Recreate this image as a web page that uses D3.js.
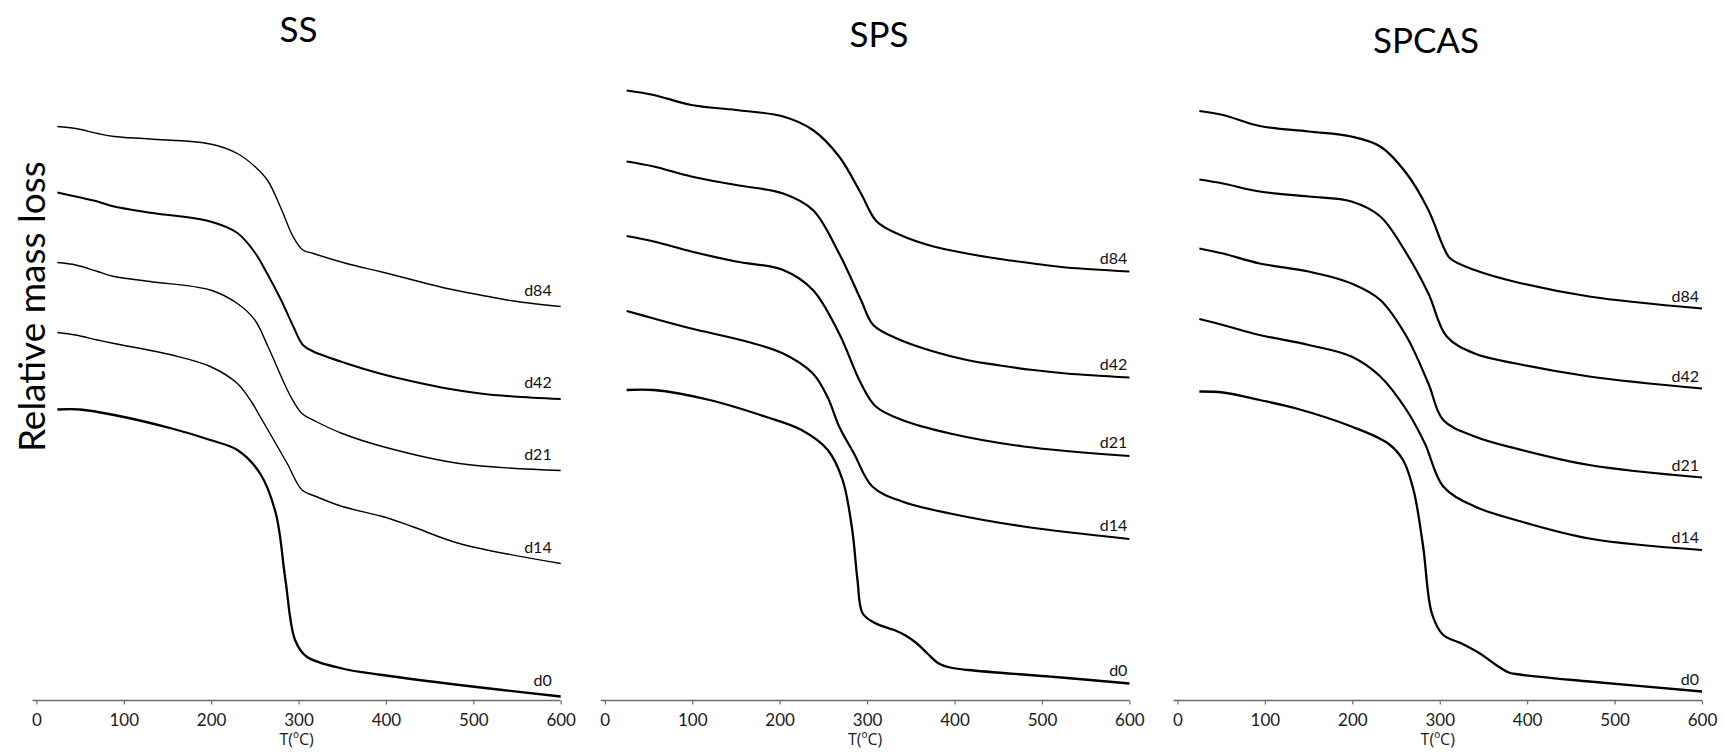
<!DOCTYPE html>
<html>
<head>
<meta charset="utf-8">
<script src="https://cdn.jsdelivr.net/npm/d3@7"></script>
<style>
  body { margin: 0; background: #fff; }
  svg { display: block; font-family: Lato, "Open Sans", sans-serif; }
</style>
</head>
<body>
<div id="chart"></div>
<script>
// x axis ticks (ºC) and curve names, top to bottom
const tempTicks = [0, 100, 200, 300, 400, 500, 600]
const seriesNames = ["d84", "d42", "d21", "d14", "d0"]

// [T (ºC), relative mass (offset, arbitrary units)]
// SS
const ssD84 = [[24,114.7],[45,114.3],[70,113.3],[89,112.7],[130,112.2],[199,111.2],[230,109.3],[250,106.7],[265,103.8],[280,98.3],[294,92.6],[305,90.0],[317,89.3],[355,87.3],[393,85.7],[431,84.0],[470,82.3],[508,81.0],[546,79.8],[600,78.7]]
const ssD42 = [[24,101.5],[45,100.7],[70,99.7],[89,98.7],[133,97.4],[199,95.7],[230,93.4],[250,89.5],[265,85.0],[280,80.0],[294,74.7],[305,71.0],[317,69.7],[355,67.3],[393,65.3],[431,63.7],[470,62.3],[508,61.3],[546,60.7],[600,60.2]]
const ssD21 = [[24,87.5],[45,87.0],[70,85.7],[89,84.7],[130,83.7],[199,82.0],[230,79.3],[250,76.0],[265,70.7],[291,60.7],[304,57.3],[320,55.7],[350,53.3],[396,50.7],[484,47.3],[600,45.9]]
const ssD14 = [[24,73.5],[45,73.0],[70,72.0],[89,71.3],[155,69.0],[199,66.7],[230,63.3],[247,59.4],[256,56.7],[265,54.0],[287,47.3],[304,42.0],[320,40.7],[350,38.7],[396,36.7],[430,34.7],[484,31.3],[600,27.3]]
const ssD0 = [[24,58.1],[50,58.1],[89,57.0],[155,54.3],[199,52.0],[230,50.0],[256,45.3],[274,37.3],[285,24.0],[296,12.0],[309,8.7],[350,6.3],[396,5.0],[484,3.0],[600,0.7]]

// SPS
const spsD84 = [[25,121.9],[56,121.0],[99,119.0],[150,118.0],[204,116.7],[238,114.0],[268,108.7],[293,101.3],[311,95.7],[338,93.0],[376,90.7],[414,89.3],[452,88.2],[490,87.3],[528,86.5],[600,85.7]]
const spsD42 = [[25,107.7],[56,106.7],[99,104.7],[150,103.0],[204,101.3],[238,98.0],[268,89.3],[293,80.0],[307,75.0],[338,72.0],[376,69.7],[414,68.0],[452,66.9],[490,66.0],[528,65.3],[600,64.5]]
const spsD21 = [[25,92.8],[56,91.7],[99,89.7],[150,87.7],[204,86.0],[238,82.0],[268,73.3],[293,63.3],[310,58.7],[340,56.0],[395,53.3],[479,50.7],[600,48.8]]
const spsD14 = [[25,77.8],[56,76.3],[99,74.3],[162,71.7],[204,69.3],[238,65.3],[255,60.5],[268,54.7],[285,49.3],[306,42.7],[340,39.7],[395,37.3],[479,34.7],[600,32.2]]
const spsD0 = [[25,62.0],[56,62.0],[120,60.0],[183,56.7],[225,54.0],[255,50.0],[272,44.0],[283,34.0],[289,24.0],[295,17.3],[310,15.3],[331,14.0],[344,12.9],[357,11.3],[369,9.3],[382,7.3],[395,6.5],[416,6.0],[522,4.5],[600,3.3]]

// SPCAS
const spcD84 = [[25,117.8],[52,117.0],[94,114.8],[150,113.7],[199,112.7],[232,110.7],[262,105.3],[287,98.0],[304,90.7],[312,88.3],[340,86.0],[387,83.6],[471,80.7],[600,78.3]]
const spcD42 = [[25,104.1],[52,103.3],[94,101.7],[150,100.7],[199,99.7],[232,96.7],[262,89.3],[287,81.3],[308,72.7],[340,69.3],[387,67.3],[471,64.7],[600,62.3]]
const spcD21 = [[25,90.3],[52,89.3],[94,87.3],[150,85.7],[199,83.3],[232,80.0],[262,72.7],[287,63.3],[304,56.0],[340,52.7],[387,50.3],[471,47.0],[600,44.5]]
const spcD14 = [[25,76.2],[52,75.0],[94,73.0],[150,71.0],[199,68.7],[232,64.7],[262,58.0],[283,51.3],[304,42.7],[340,38.7],[387,36.0],[471,32.3],[600,30.0]]
const spcD0 = [[25,61.7],[52,61.5],[94,60.0],[136,58.3],[199,54.7],[241,51.3],[258,48.0],[270,42.0],[281,30.7],[291,17.3],[304,13.0],[325,11.3],[346,9.3],[362,7.3],[379,5.5],[387,5.2],[471,3.7],[600,1.7]]

const width = 1724, height = 756
const axisY = 700.5

const svg = d3.select("#chart").append("svg")
    .attr("width", width)
    .attr("height", height)

// one shared vertical scale, no ticks shown
const y = d3.scaleLinear().domain([0, 120]).range([700, 100])

const panels = [
    { title: "SS", series: [ssD84, ssD42, ssD21, ssD14, ssD0], left: 36.4, right: 560.7,
      titleX: 298.5, titleY: 42, widths: [1.4, 2, 1.4, 1.4, 2.3], labelDx: -9, labelDy: -11 },
    { title: "SPS", series: [spsD84, spsD42, spsD21, spsD14, spsD0], left: 604.8, right: 1129.4,
      titleX: 879, titleY: 46.5, widths: [2.2, 2.2, 2.2, 2.2, 2.3], labelDx: -2, labelDy: -8 },
    { title: "SPCAS", series: [spcD84, spcD42, spcD21, spcD14, spcD0], left: 1177.5, right: 1702,
      titleX: 1426, titleY: 52.5, widths: [2.2, 2.2, 2.2, 2.2, 2.3], labelDx: -3, labelDy: -7 }
]

panels.forEach(p => {
    const x = d3.scaleLinear().domain([0, 600]).range([p.left, p.right])
    const g = svg.append("g")

    const line = d3.line()
        .x(d => x(d[0]))
        .y(d => y(d[1]))
        .curve(d3.curveCatmullRom.alpha(0.5))

    // curves + their end labels
    p.series.forEach((s, i) => {
        g.append("path")
            .attr("d", line(s))
            .attr("fill", "none")
            .attr("stroke", "#000")
            .attr("stroke-width", p.widths[i])
            .attr("stroke-linejoin", "round")

        const last = s[s.length - 1]
        g.append("text")
            .attr("x", x(last[0]) + p.labelDx)
            .attr("y", y(last[1]) + p.labelDy)
            .attr("text-anchor", "end")
            .attr("font-size", 16)
            .attr("fill", "#111")
            .text(seriesNames[i])
    })

    // bottom axis
    const axis = g.append("g")
        .attr("transform", `translate(0,${axisY})`)
        .call(d3.axisBottom(x).tickValues(tempTicks).tickSize(4).tickSizeOuter(0).tickPadding(9))
        .attr("font-family", null)
        .attr("font-size", 17)

    axis.select(".domain").remove()
    axis.selectAll(".tick line").attr("stroke", "#6b6b6b").attr("stroke-width", 1.2)
    axis.selectAll(".tick text").attr("fill", "#1a1a1a")
    axis.append("line")
        .attr("x1", x(0) - 4)
        .attr("x2", x(600))
        .attr("stroke", "#6b6b6b")
        .attr("stroke-width", 1.3)

    g.append("text")
        .attr("x", (p.left + p.right) / 2 - 2)
        .attr("y", 745)
        .attr("text-anchor", "middle")
        .attr("font-family", "'Open Sans', Lato, sans-serif")
        .attr("font-size", 16)
        .attr("fill", "#1a1a1a")
        .text("T(ºC)")

    // panel title
    g.append("text")
        .attr("x", p.titleX)
        .attr("y", p.titleY)
        .attr("text-anchor", "middle")
        .attr("font-size", 35)
        .attr("fill", "#000")
        .text(p.title)
})

// y axis title
svg.append("text")
    .attr("transform", "translate(45,306.7) rotate(-90)")
    .attr("text-anchor", "middle")
    .attr("font-size", 37)
    .attr("fill", "#000")
    .text("Relative mass loss")
</script>
</body>
</html>
